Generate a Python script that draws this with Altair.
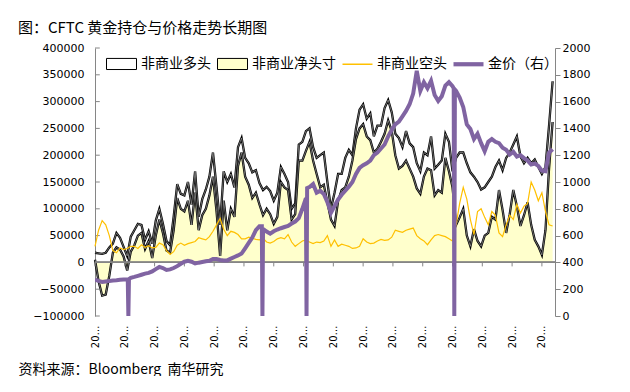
import datetime as dt
import pandas as pd
import altair as alt

weeks = list(range(0, 769, 6))

long_pos = [18000, 17000, 16000, 18000, 28000, 35000, 55000, 46000, 29000, 12000,
            48000, 60000, 72000, 70000, 42000, 58000, 35000, 78000, 100000, 72000,
            40000, 32000, 85000, 146000, 128000, 125000, 150000, 108000, 170000, 85000,
            118000, 136000, 160000, 205000, 140000, 70000, 170000, 150000, 165000, 140000,
            215000, 232000, 195000, 185000, 168000, 172000, 148000, 135000, 141000, 133000,
            115000, 130000, 178000, 165000, 150000, 100000, 110000, 220000, 225000, 245000,
            250000, 215000, 195000, 200000, 205000, 150000, 100000, 130000, 165000, 165000,
            195000, 210000, 200000, 250000, 285000, 295000, 268000, 278000, 235000, 255000,
            255000, 288000, 303000, 280000, 240000, 232000, 215000, 245000, 222000, 215000,
            185000, 170000, 205000, 200000, 235000, 175000, 182000, 190000, 240000, 225000,
            170000, 195000, 205000, 205000, 185000, 168000, 160000, 150000, 136000, 140000,
            150000, 160000, 178000, 190000, 172000, 195000, 205000, 220000, 235000, 198000,
            185000, 195000, 185000, 192000, 178000, 165000, 178000, 255000, 338000]

net_pos = [5000, -35000, -62000, -60000, -25000, 18000, 28000, 24000, 11000, -15000,
           20000, 32000, 50000, 55000, 25000, 40000, 8000, 50000, 80000, 55000,
           22000, 18000, 60000, 120000, 100000, 95000, 115000, 70000, 130000, 60000,
           88000, 100000, 125000, 160000, 95000, 12000, 115000, 60000, 100000, 85000,
           180000, 205000, 160000, 145000, 120000, 130000, 108000, 88000, 100000, 90000,
           72000, 85000, 150000, 140000, 135000, 80000, 90000, 190000, 190000, 208000,
           225000, 190000, 165000, 140000, 145000, 112000, 80000, 68000, 115000, 135000,
           140000, 160000, 190000, 230000, 250000, 258000, 235000, 228000, 205000, 212000,
           225000, 240000, 265000, 245000, 200000, 175000, 180000, 190000, 175000, 160000,
           138000, 128000, 160000, 175000, 172000, 125000, 135000, 130000, 195000, 170000,
           140000, 70000, 84000, 100000, 50000, 30000, 62000, 40000, 30000, 50000,
           55000, 85000, 80000, 135000, 98000, 55000, 90000, 135000, 105000, 68000,
           88000, 112000, 70000, 42000, 30000, 14000, 60000, 175000, 262000]

short_pos = [30000, 60000, 78000, 70000, 50000, 22000, 18000, 27000, 24000, 26000,
             30000, 30000, 26000, 33000, 28000, 31000, 27000, 28000, 36000, 33000,
             22000, 15000, 20000, 32000, 36000, 32000, 35000, 37000, 39000, 46000,
             44000, 42000, 48000, 58000, 70000, 82000, 62000, 50000, 58000, 56000,
             52000, 44000, 44000, 47000, 45000, 43000, 42000, 45000, 38000, 36000,
             39000, 44000, 46000, 44000, 52000, 38000, 30000, 35000, 40000, 42000,
             38000, 35000, 38000, 37000, 40000, 50000, 30000, 42000, 30000, 34000,
             32000, 30000, 26000, 27000, 30000, 44000, 38000, 35000, 36000, 40000,
             43000, 41000, 42000, 47000, 60000, 58000, 56000, 60000, 62000, 64000,
             50000, 44000, 40000, 33000, 42000, 50000, 52000, 50000, 48000, 44000,
             40000, 70000, 110000, 140000, 118000, 80000, 52000, 95000, 100000, 84000,
             70000, 95000, 88000, 55000, 48000, 70000, 88000, 80000, 108000, 92000,
             105000, 110000, 150000, 135000, 115000, 130000, 95000, 70000, 68000]

gold = [271, 262, 254, 258, 262, 265, 267, 270, 272, 272,
        285, 292, 300, 308, 316, 322, 333, 350, 366, 358,
        344, 348, 358, 372, 390, 405, 412, 405, 392, 398,
        403, 408, 412, 425, 425, 418, 415, 415, 428, 440,
        452, 466, 505, 545, 585, 640, 670, 650, 630, 614,
        632, 645, 655, 664, 672, 690, 705, 730, 800, 880,
        963, 985, 920, 935, 910, 850, 770, 820, 870, 905,
        935, 965, 1000, 1060, 1105, 1125, 1140, 1160, 1200, 1220,
        1250, 1280, 1340, 1390, 1430, 1450, 1490, 1530, 1580, 1660,
        1830, 1680, 1745, 1700, 1755, 1650, 1605, 1640, 1720, 1745,
        1715, 1680, 1630, 1560, 1430, 1395, 1320, 1360, 1290, 1230,
        1300, 1320, 1300, 1290, 1255, 1240, 1205, 1225, 1190, 1200,
        1178, 1160, 1130, 1138, 1120, 1085, 1080, 1220, 1245]

# extra weekly gold points around the weeks recorded as 0 (the vertical drops)
gold_extra_weeks = [55, 56, 57, 280, 281, 355, 356, 602, 603, 604]
gold_extra_values = [272, 0, 276, 670, 0, 0, 955, 1700, 0, 1690]

tick_weeks = list(range(0, 751, 50))
start_date = dt.date(2001, 5, 1)
tick_labels = [(start_date + dt.timedelta(weeks=w)).strftime("%Y/%m/%d") for w in tick_weeks]

series_names = ["非商业多头", "非商业净头寸", "非商业空头", "金价（右）"]
y_ticks = list(range(-100000, 400001, 50000))
g_ticks = list(range(0, 2001, 200))

title_text = "图：CFTC 黄金持仓与价格走势长期图"
source_text = "资料来源：Bloomberg\u00a0\u00a0南华研究"

# ---- tables ----
df = pd.DataFrame({"week": weeks, "long": long_pos, "net": net_pos, "short": short_pos})
gold_df = pd.DataFrame({"week": weeks + gold_extra_weeks,
                        "gold": gold + gold_extra_values}).sort_values("week")
ticks_df = pd.DataFrame({"week": tick_weeks})
yticks_df = pd.DataFrame({"v": y_ticks})
legend_df = pd.DataFrame({"series": series_names, "week": [-100] * 4, "val": [0] * 4})

CJK = "Noto Sans CJK SC"
NUM = "DejaVu Sans"
GRAY = "#868686"

xscale = alt.Scale(domain=[0, 772], nice=False, zero=False)
yscale = alt.Scale(domain=[-100000, 400000], nice=False, zero=False)
gscale = alt.Scale(domain=[0, 2000], nice=False, zero=False)

label_js = "[" + ",".join("'%s'" % s for s in tick_labels) + "][round(datum.value/50)]"

x_axis = alt.Axis(values=tick_weeks, labelExpr=label_js, labelAngle=-90, labelLimit=25,
                  labelFont=NUM, labelFontSize=10, labelColor="black", labelPadding=9,
                  labelFlush=False, labelOverlap=False, ticks=False, domain=False, grid=False,
                  title=source_text, titleFont=CJK, titleFontSize=14, titleFontWeight="normal",
                  titleColor="black", titleAlign="left", titleAnchor="start", titleX=-77,
                  titleY=57, titleBaseline="alphabetic", titleAngle=0)
y_axis = alt.Axis(values=y_ticks, format="d", orient="left", labelFont=NUM, labelFontSize=11,
                  labelColor="black", ticks=False, domainColor=GRAY,
                  grid=False, title=None, labelPadding=11)
g_axis = alt.Axis(values=g_ticks, format="d", orient="right", labelFont=NUM, labelFontSize=11,
                  labelColor="black", tickSize=5, tickColor=GRAY, domainColor=GRAY,
                  grid=False, title=None, labelPadding=2)


def X():
    return alt.X("week:Q", scale=xscale, axis=x_axis)


def YL(field):
    return alt.Y(field, scale=yscale, axis=y_axis)


base = alt.Chart(df)

long_black = base.mark_line(color="black", strokeWidth=2.3).encode(x=X(), y=YL("long:Q"))
long_inner = base.mark_line(color="#b4b4b4", strokeWidth=0.6).encode(x=X(), y=YL("long:Q"))
net_area = base.mark_area(color="#FFFFCC").encode(x=X(), y=YL("net:Q"), y2=alt.datum(0))
net_black = base.mark_line(color="black", strokeWidth=2.3).encode(x=X(), y=YL("net:Q"))
net_inner = base.mark_line(color="#b4b4b4", strokeWidth=0.6).encode(x=X(), y=YL("net:Q"))
zero_rule = alt.Chart(ticks_df).mark_rule(color=GRAY, strokeWidth=1).encode(
    y=alt.Y(datum=0, scale=yscale, axis=y_axis))
zero_ticks = alt.Chart(ticks_df).mark_rule(color=GRAY, strokeWidth=1).encode(
    x=X(), y=alt.Y(datum=0, scale=yscale, axis=y_axis), y2=alt.datum(-7500))
left_ticks = alt.Chart(yticks_df).mark_rule(color=GRAY, strokeWidth=1).encode(
    x=alt.X(datum=0, scale=xscale, axis=x_axis), x2=alt.datum(8), y=YL("v:Q"))
short_line = base.mark_line(color="#FFC000", strokeWidth=1.2).encode(x=X(), y=YL("short:Q"))

rect_path = "M-1,-0.37H1V0.37H-1Z"
thin_path = "M-1,-0.05H1V0.05H-1Z"
thick_path = "M-1,-0.14H1V0.14H-1Z"
leg = alt.Legend(title=None, orient="none", legendX=11, legendY=0, direction="horizontal",
                 symbolSize=900, symbolStrokeWidth=1, labelFont=CJK, labelFontSize=14,
                 labelColor="black", labelOffset=4, columnPadding=4, padding=0,
                 labelLimit=200)
legend_layer = alt.Chart(legend_df).mark_point(clip=True, opacity=1, filled=True).encode(
    x=X(), y=YL("val:Q"),
    shape=alt.Shape("series:N", scale=alt.Scale(domain=series_names,
                    range=[rect_path, rect_path, thin_path, thick_path]), legend=leg),
    fill=alt.Fill("series:N", scale=alt.Scale(domain=series_names,
                  range=["#FFFFFF", "#FFFFCC", "#FFC000", "#8064A2"]), legend=leg),
    stroke=alt.Stroke("series:N", scale=alt.Scale(domain=series_names,
                      range=["#000000", "#000000", "transparent", "transparent"]), legend=leg),
)

left = alt.layer(long_black, long_inner, net_area, net_black, net_inner, zero_rule,
                 zero_ticks, left_ticks, short_line, legend_layer)

gold_line = alt.Chart(gold_df).mark_line(color="#8064A2", strokeWidth=4, clip=True).encode(
    x=X(), y=alt.Y("gold:Q", scale=gscale, axis=g_axis))

chart = alt.layer(left, gold_line).resolve_scale(y="independent").properties(
    width=460, height=268,
    padding={"left": 87, "top": 40, "right": 60, "bottom": 60},
    autosize=alt.AutoSizeParams(type="none"),
    title=alt.TitleParams(text=title_text, anchor="start", frame="group", dx=-77,
                          font=CJK, fontSize=15, fontWeight="normal", color="black",
                          offset=6),
).configure_view(stroke=None)

chart.save("out.html", embed_options={"renderer": "svg", "actions": False})
